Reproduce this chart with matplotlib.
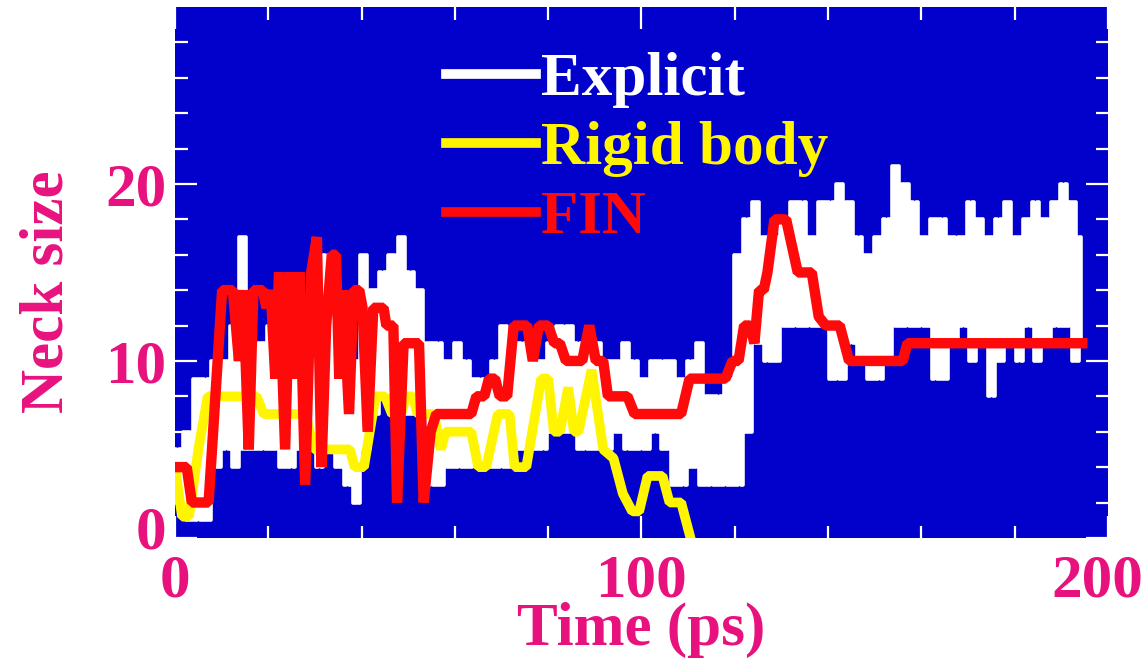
import matplotlib
matplotlib.use("Agg")
import matplotlib.pyplot as plt
import numpy as np
from matplotlib.lines import Line2D
from matplotlib.transforms import ScaledTranslation

# Explicit: upper / lower envelope of the noisy trace, per 2 ps bin (0..196 ps)
explicit_hi = [5, 6, 9, 9, 10, 10, 12, 17, 13, 11,
               12, 9, 10, 12, 13, 16, 16, 13, 12, 10,
               16, 14, 15, 16, 17, 15, 14, 11, 11, 10,
               11, 10, 9, 9, 10, 12, 11, 11, 11, 10,
               11, 12, 12, 11, 11, 11, 10, 10, 11, 10,
               9, 10, 10, 10, 9, 10, 11, 8, 8, 9,
               16, 18, 19, 17, 17, 18, 19, 19, 17, 19,
               19, 20, 19, 17, 16, 17, 18, 21, 20, 19,
               17, 18, 18, 17, 17, 19, 18, 17, 18, 19,
               17, 18, 19, 18, 19, 20, 19, 17]
explicit_lo = [2, 1, 1, 1, 4, 5, 4, 5, 5, 5,
               5, 4, 4, 5, 5, 4, 5, 4, 3, 2,
               5, 7, 8, 8, 7, 7, 7, 3, 3, 4,
               4, 4, 4, 4, 4, 4, 5, 5, 5, 5,
               6, 6, 6, 5, 5, 5, 5, 6, 5, 5,
               5, 6, 5, 3, 3, 4, 3, 3, 3, 3,
               3, 6, 11, 10, 10, 12, 12, 12, 12, 12,
               9, 9, 11, 10, 9, 9, 10, 12, 12, 12,
               12, 9, 9, 11, 12, 10, 11, 8, 10, 11,
               10, 12, 10, 11, 12, 12, 10, 11]

rigid_t = [0, 1.5, 3.0, 5.0, 7.0, 17.5, 19.0, 28.0, 29.8, 37.5, 38.5, 40.5,
           43.0, 45.0, 46.5, 48.5, 49.5, 51.0, 52.0, 55.5, 57.0, 58.0, 63.5,
           65.0, 66.7, 69.2, 71.7, 72.8, 75.3, 78.5, 80.0, 81.2, 82.5, 84.3,
           85.5, 86.5, 89.3, 91.8, 94.0, 96.0, 98.0, 99.5, 101.3, 104.5,
           106.0, 108.5, 110.5]
rigid_v = [4, 1.2, 1.2, 5, 8, 8, 7, 7, 5, 5, 4, 4,
           8, 8, 7, 7, 8, 8, 7, 7, 5, 6, 6,
           4, 4, 7, 7, 4, 4, 9, 9, 6, 6, 8.5,
           6, 6, 9.5, 5, 4.5, 2.5, 1.5, 1.5, 3.5, 3.5,
           2, 2, 0]

fin_t = [0, 2.5, 3.6, 7.2, 10.1, 12.4, 13.7, 14.6, 15.8, 16.8, 18.8, 19.6,
         20.5, 21.5, 22.3, 23.6, 24.6, 25.8, 26.7, 27.9, 29.2, 30.4, 31.4,
         32.4, 33.6, 34.5, 35.2, 36.0, 37.3, 38.3, 39.5, 40.2, 41.3, 42.5,
         44.7, 45.3, 46.8, 47.6, 49.0, 52.3, 53.3, 54.8, 56.0, 63.5, 64.6,
         66.3, 67.3, 68.6, 69.6, 71.2, 72.6, 75.5, 76.7, 78.0, 80.0, 81.3,
         82.5, 83.8, 87.3, 88.8, 90.2, 91.8, 92.8, 97.0, 98.5, 108.5, 110.3,
         118.0, 119.5, 120.8, 122.0, 123.3, 124.2, 125.2, 126.2, 127.0,
         128.5, 131.0, 133.5, 136.5, 138.0, 139.5, 142.5, 143.5, 144.5,
         156.0, 157.0, 194.5]
fin_v = [4, 4, 2, 2, 14, 14, 10, 14, 5, 14, 14, 13,
         14, 9, 15, 5, 15, 9, 15, 3, 15, 17, 4,
         12, 16, 16, 9, 14, 7, 14, 14, 13, 6, 13,
         13, 12, 12, 2, 11, 11, 2, 6, 7, 7, 8,
         8, 9, 9, 8, 8, 12, 12, 10, 12, 12, 11,
         11, 10, 10, 12, 10, 10, 8, 8, 7, 7, 9,
         9, 10, 10, 12, 12, 11, 14, 14, 15,
         18, 18, 15, 15, 12.5, 12, 12, 11, 10,
         10, 11, 11]

labels = ["Explicit", "Rigid body", "FIN"]
xticks = [0, 100, 200]
yticks = [0, 10, 20]

BLUE = "#0101CB"
PINK = "#E8127E"
WHITE = "#FFFFFF"
YELLOW = "#FFF500"
RED = "#FF0A0A"
FS = 44

plt.rcParams["font.family"] = ["Liberation Serif", "DejaVu Serif"]
plt.rcParams["font.weight"] = "bold"

fig = plt.figure(figsize=(11.44, 6.6), dpi=100)
ax = fig.add_axes([0.153, 0.185, 0.8155, 0.8044])
ax.set_facecolor(BLUE)

# the explicit trace flips between its envelope values every half ps
hi = np.asarray(explicit_hi, float)
lo = np.asarray(explicit_lo, float)
expl_y = np.column_stack([hi, lo, hi, lo]).ravel()
expl_x = np.arange(len(expl_y)) * 0.5
keep = expl_x <= 194.6
ax.plot(expl_x[keep], expl_y[keep], color=WHITE, lw=2.6, drawstyle="steps-mid")

ax.plot(rigid_t, rigid_v, color=YELLOW, lw=7.0, solid_joinstyle="bevel")
ax.plot(fin_t, fin_v, color=RED, lw=7.5, solid_joinstyle="bevel")

ax.set_xlim(0, 200)
ax.set_ylim(0, 30)
ax.set_xticks(xticks)
ax.set_yticks(yticks)
ax.set_xticks(np.arange(0, 201, 20), minor=True)
ax.set_yticks(np.arange(0, 30, 2), minor=True)
ax.tick_params(which="both", direction="in", color=WHITE, width=1.6,
               top=True, right=True, labelcolor=PINK, labelsize=FS)
ax.tick_params(which="major", length=16)
ax.tick_params(which="minor", length=9)
ax.tick_params(axis="x", pad=11)
ax.tick_params(axis="y", pad=6)
for lab in ax.get_xticklabels() + ax.get_yticklabels():
    lab.set_fontweight("bold")
for s in ax.spines.values():
    s.set_visible(False)

# nudge the corner labels the way the original does
ylab0 = ax.yaxis.get_major_ticks()[0].label1
ylab0.set_transform(ylab0.get_transform() + ScaledTranslation(0, 8 / 72, fig.dpi_scale_trans))
xlab200 = ax.xaxis.get_major_ticks()[2].label1
xlab200.set_transform(xlab200.get_transform() + ScaledTranslation(-8 / 72, 0, fig.dpi_scale_trans))

ax.set_xlabel("Time (ps)", color=PINK, fontsize=44, fontweight="bold", labelpad=-5)
ax.set_ylabel("Neck size", color=PINK, fontsize=FS, fontweight="bold")
ax.yaxis.set_label_coords(-0.107, 0.463)

handles = [Line2D([], [], color=c, lw=7) for c in (WHITE, YELLOW, RED)]
ax.legend(handles, labels, loc="upper left", bbox_to_anchor=(0.2445, 0.995),
          frameon=False, handlelength=1.47, handletextpad=0.08,
          labelspacing=0.21, borderpad=0.2, labelcolor="linecolor",
          prop={"weight": "bold", "size": FS})

fig.savefig("out.png", dpi=100, facecolor="white")
